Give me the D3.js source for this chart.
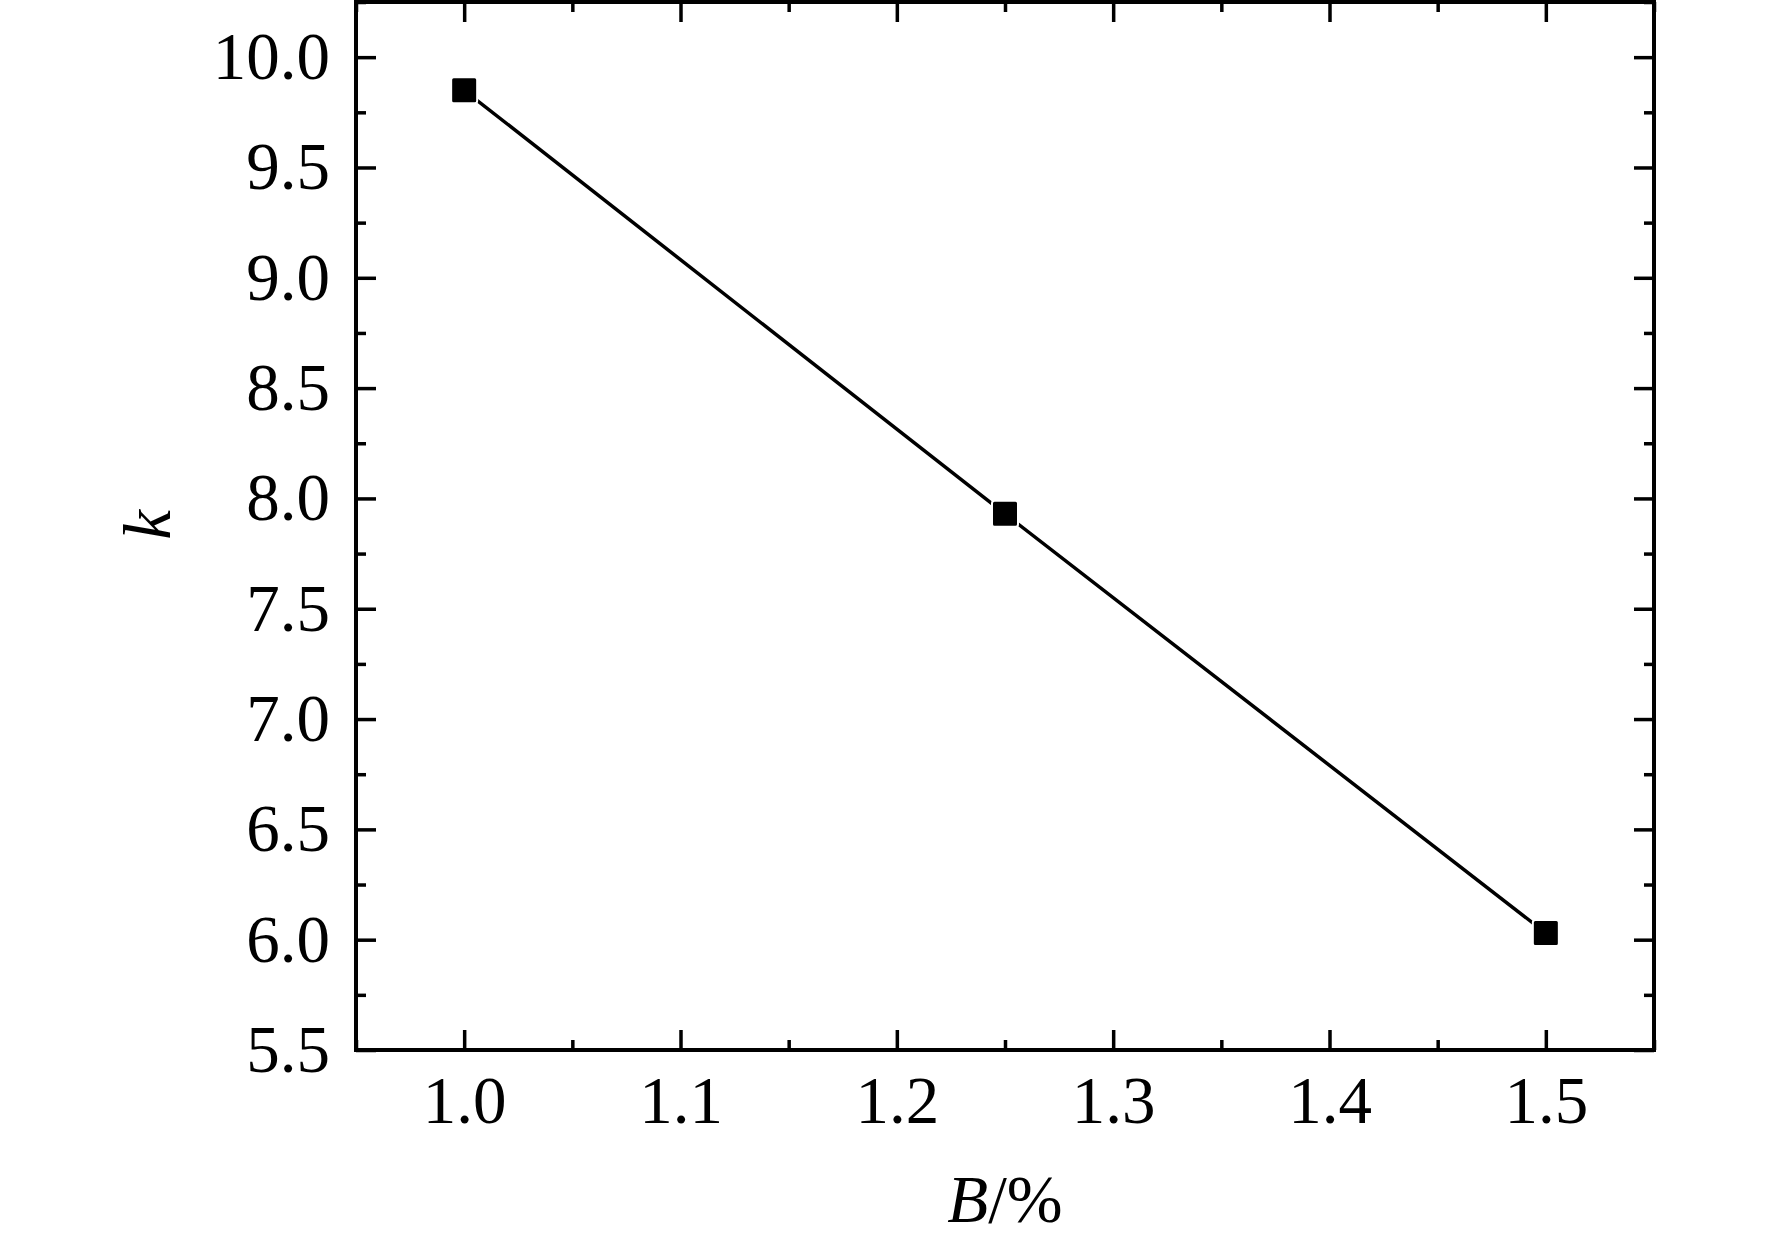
<!DOCTYPE html>
<html>
<head>
<meta charset="utf-8">
<script src="https://cdn.jsdelivr.net/npm/d3@7"></script>
<style>
  html, body { margin: 0; padding: 0; background: #fff; }
</style>
</head>
<body>
<div id="chart"></div>
<script>
// data
const bValues = [1.0, 1.25, 1.5];
const kValues = [9.85, 7.93, 6.03];
const xTickValues = [1.0, 1.1, 1.2, 1.3, 1.4, 1.5];
const yTickValues = [5.5, 6.0, 6.5, 7.0, 7.5, 8.0, 8.5, 9.0, 9.5, 10.0];

const fontFamily = '"Liberation Serif", "Times New Roman", Times, serif';
const fontSize = '67px';

const width = 1772;
const height = 1242;
const margin = { top: 2, right: 118, bottom: 192, left: 356 };
const innerW = width - margin.left - margin.right;
const innerH = height - margin.top - margin.bottom;

const svg = d3.select('#chart')
  .append('svg')
  .attr('width', width)
  .attr('height', height)
  .attr('font-family', fontFamily);

const g = svg.append('g')
  .attr('transform', `translate(${margin.left},${margin.top})`);

const x = d3.scaleLinear().domain([0.95, 1.55]).range([0, innerW]);
const y = d3.scaleLinear().domain([5.5, 10.25]).range([innerH, 0]);

// minor ticks halfway between majors
const xMinor = d3.range(0.95, 1.56, 0.05).map(v => +v.toFixed(2)).filter(v => !xTickValues.some(t => Math.abs(t - v) < 1e-6));
const yMinor = d3.range(5.75, 10.26, 0.5).map(v => +v.toFixed(2));

function styleAxis(sel) {
  sel.attr('font-family', fontFamily);
  sel.select('.domain').remove();
  sel.selectAll('.tick line').attr('stroke', '#000').attr('stroke-width', 3.5);
  sel.selectAll('.tick text')
    .attr('font-family', fontFamily)
    .attr('font-size', fontSize)
    .attr('fill', '#000');
}

// bottom axis (ticks inward)
g.append('g')
  .attr('transform', `translate(0,${innerH})`)
  .call(d3.axisBottom(x).tickValues(xTickValues).tickFormat(d3.format('.1f')).tickSizeInner(-20).tickSizeOuter(0).tickPadding(25))
  .call(styleAxis);
g.append('g')
  .attr('transform', `translate(0,${innerH})`)
  .call(d3.axisBottom(x).tickValues(xMinor).tickFormat('').tickSizeInner(-10).tickSizeOuter(0))
  .call(styleAxis);

// top axis mirror
g.append('g')
  .call(d3.axisTop(x).tickValues(xTickValues).tickFormat('').tickSizeInner(-20).tickSizeOuter(0))
  .call(styleAxis);
g.append('g')
  .call(d3.axisTop(x).tickValues(xMinor).tickFormat('').tickSizeInner(-10).tickSizeOuter(0))
  .call(styleAxis);

// left axis
g.append('g')
  .call(d3.axisLeft(y).tickValues(yTickValues).tickFormat(d3.format('.1f')).tickSizeInner(-20).tickSizeOuter(0).tickPadding(26))
  .call(styleAxis);
g.append('g')
  .call(d3.axisLeft(y).tickValues(yMinor).tickFormat('').tickSizeInner(-10).tickSizeOuter(0))
  .call(styleAxis);

// right axis mirror
g.append('g')
  .attr('transform', `translate(${innerW},0)`)
  .call(d3.axisRight(y).tickValues(yTickValues).tickFormat('').tickSizeInner(-20).tickSizeOuter(0))
  .call(styleAxis);
g.append('g')
  .attr('transform', `translate(${innerW},0)`)
  .call(d3.axisRight(y).tickValues(yMinor).tickFormat('').tickSizeInner(-10).tickSizeOuter(0))
  .call(styleAxis);

// frame
g.append('rect')
  .attr('x', 0).attr('y', 0)
  .attr('width', innerW).attr('height', innerH)
  .attr('fill', 'none')
  .attr('stroke', '#000')
  .attr('stroke-width', 4);

const points = bValues.map((b, i) => ({ b: b, k: kValues[i] }));

// line
g.append('path')
  .datum(points)
  .attr('fill', 'none')
  .attr('stroke', '#000')
  .attr('stroke-width', 3.5)
  .attr('d', d3.line().x(d => x(d.b)).y(d => y(d.k)));

// square markers
const size = 26;
g.selectAll('rect.marker')
  .data(points)
  .enter()
  .append('rect')
  .attr('class', 'marker')
  .attr('x', d => x(d.b) - size / 2)
  .attr('y', d => y(d.k) - size / 2)
  .attr('width', size)
  .attr('height', size)
  .attr('rx', 2.5)
  .attr('fill', '#000')
  .attr('stroke', '#fff')
  .attr('stroke-width', 2);

// axis titles
const xTitle = svg.append('text')
  .attr('x', margin.left + x(1.25))
  .attr('y', 1222)
  .attr('text-anchor', 'middle')
  .attr('font-family', fontFamily)
  .attr('font-size', fontSize);
xTitle.append('tspan').attr('font-style', 'italic').text('B');
xTitle.append('tspan').text('/%');

svg.append('text')
  .attr('transform', `translate(170,${margin.top + y(7.88)}) rotate(-90)`)
  .attr('text-anchor', 'middle')
  .attr('font-family', fontFamily)
  .attr('font-size', fontSize)
  .attr('font-style', 'italic')
  .text('k');
</script>
</body>
</html>
